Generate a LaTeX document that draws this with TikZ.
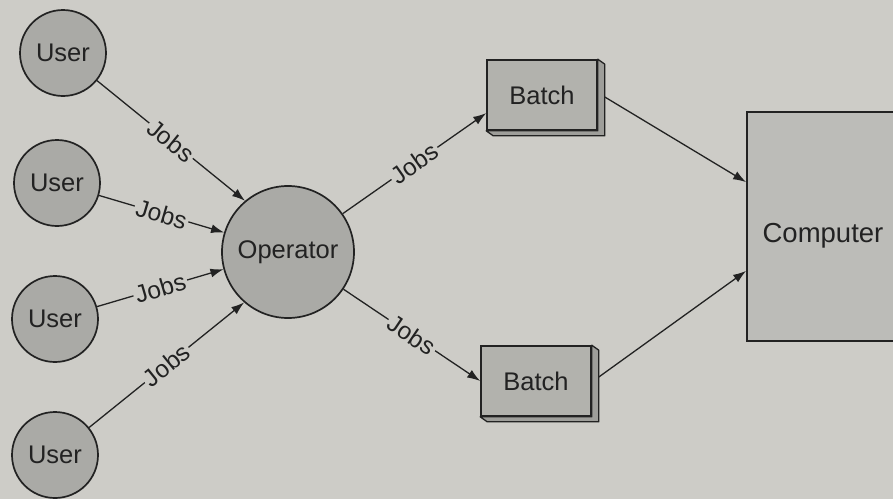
\documentclass[tikz,border=0pt]{standalone}
\usepackage{fontspec}
\setmainfont{Liberation Sans}
\usetikzlibrary{arrows.meta,calc}
\definecolor{bg}{RGB}{205,204,199}
\definecolor{cfill}{RGB}{170,170,166}
\definecolor{bfill}{RGB}{178,178,173}
\definecolor{dfill}{RGB}{158,158,154}
\definecolor{pfill}{RGB}{188,188,184}
\definecolor{ink}{RGB}{34,34,34}
\begin{document}
\begin{tikzpicture}[x=1pt,y=-1pt,
  font=\fontsize{25.5}{28}\selectfont,
  usernode/.style={circle, draw=ink, line width=1.7pt, fill=cfill, minimum size=86pt, inner sep=0pt, text=ink},
  opnode/.style={circle, draw=ink, line width=1.7pt, fill=cfill, minimum size=132pt, inner sep=0pt, text=ink},
  batchbox/.style={rectangle, draw=ink, line width=1.6pt, fill=bfill, minimum width=110pt, minimum height=70pt, inner sep=0pt, text=ink},
  compbox/.style={rectangle, draw=ink, line width=1.8pt, fill=pfill, minimum width=152pt, minimum height=229pt, inner sep=0pt, text=ink, font=\fontsize{27.5}{30}\selectfont},
  depth/.style={draw=ink, line width=1.3pt, fill=dfill, line join=round},
  arr/.style={draw=ink, line width=1.3pt, -{Latex[length=13pt,width=9pt]}},
  lbl/.style={fill=bg, sloped, inner sep=2pt, pos=0.5, text=ink, font=\fontsize{24.5}{28}\selectfont}]
\useasboundingbox (0,0) rectangle (893,499);
\fill[bg] (0,0) rectangle (893,499);
\clip (0,0) rectangle (893,499);

% nodes
\node[usernode] (u1) at (63,53) {User};
\node[usernode] (u2) at (57,183) {User};
\node[usernode] (u3) at (55,319) {User};
\node[usernode] (u4) at (55,455) {User};
\node[opnode] (op) at (288,252) {Operator};
\node[batchbox] (bt) at (542,95) {Batch};
\node[batchbox] (bb) at (536,381) {Batch};
\node[compbox] (comp) at (823,226.5) {\raisebox{-6pt}[\height][0pt]{Computer}};

% 3D depth of batch boxes
\foreach \b in {bt,bb}{
  \path[depth] (\b.north east) -- ++(7,5) -- ($(\b.south east)+(7,5)$)
    -- ($(\b.south west)+(7,5)$) -- (\b.south west) -- (\b.south east) -- cycle;
}

% connectors
\draw[arr] (u1) -- node[lbl] {Jobs} (op.130);
\draw[arr] (u2) -- node[lbl] {Jobs} (op.163);
\draw[arr] (u3) -- node[lbl] {Jobs} (op.195);
\draw[arr] (u4) -- node[lbl] {Jobs} (op.229);
\draw[arr] (op) -- node[lbl] {Jobs} (bt.198);
\draw[arr] (op) -- node[lbl] {Jobs} (bb.west);
\draw[arr] ($(bt.east)+(7,2)$) -- (comp.150);
\draw[arr] ($(bb.east)+(7,-4)$) -- (comp.210);
\end{tikzpicture}
\end{document}
